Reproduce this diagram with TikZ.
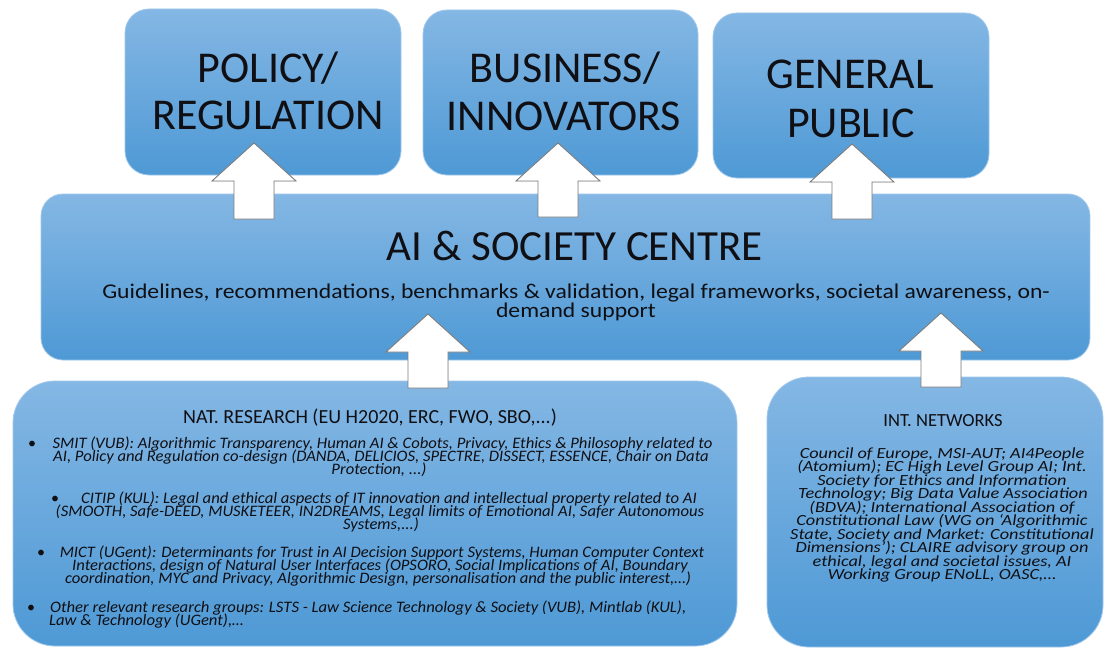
\documentclass[tikz,border=0pt]{standalone}
\usepackage{fontspec}
\setmainfont{Carlito}
\newfontfamily\stretchleft[FakeStretch=1.04]{Carlito}
\newfontfamily\stretchright[FakeStretch=1.18]{Carlito}
\newfontfamily\stretchsub[FakeStretch=1.127]{Carlito}
\usetikzlibrary{calc}
\definecolor{boxtop}{RGB}{132,183,228}
\definecolor{boxbot}{RGB}{78,153,213}
\definecolor{boxedge}{RGB}{160,200,236}
\definecolor{arrowedge}{RGB}{125,125,125}
\definecolor{inkblack}{RGB}{15,15,20}
\tikzset{
  bluebox/.style={draw=boxedge, line width=0.8pt, top color=boxtop, bottom color=boxbot,
    rounded corners=#1, inner sep=0pt},
  bluebox/.default=24pt,
  titletext/.style={anchor=base, inner sep=0pt, text=inkblack, font=\fontsize{44}{47}\selectfont},
  ctitletext/.style={anchor=base, inner sep=0pt, text=inkblack, font=\fontsize{43}{47}\selectfont},
  subtext/.style={anchor=base, inner sep=0pt, text=inkblack, font=\stretchsub\fontsize{21}{21}\selectfont},
  headtext/.style={anchor=base, inner sep=0pt, text=inkblack, font=\fontsize{20}{20}\selectfont},
  intheadtext/.style={anchor=base, inner sep=0pt, text=inkblack, font=\fontsize{18.5}{20}\selectfont},
  itext/.style={anchor=base, inner sep=0pt, text=inkblack, font=\stretchleft\fontsize{16}{13}\selectfont\itshape},
  ltext/.style={itext, anchor=base west},
  rtext/.style={anchor=base, inner sep=0pt, text=inkblack, font=\stretchright\fontsize{15.5}{13}\selectfont\itshape},
  bulletmark/.style={anchor=base, inner sep=0pt, text=inkblack, font=\fontsize{16}{13}\selectfont},
  arrowbody/.style={fill=white, draw=arrowedge, line width=0.9pt, line join=miter},
  arrowshade/.style={fill=black!45}
}
\newcommand\myblockarrow[2]{%
  \foreach \sty/\dx/\dy in {arrowshade/1.6/1.6, arrowbody/0/0}{
  \path[\sty, shift={(\dx,\dy)}] (#1) -- ($(#1)+(42,38)$) -- ($(#1)+(20,38)$) -- ($(#2)+(20,0)$)
     -- ($(#2)+(-20,0)$) -- ($(#1)+(-20,38)$) -- ($(#1)+(-42,38)$) -- cycle;}
}
\begin{document}
\begin{tikzpicture}[x=1pt,y=-1pt]
\useasboundingbox (0,0) rectangle (1105,650);
\fill[white] (0,0) rectangle (1105,650);

% boxes
\node[bluebox, minimum width=276pt, minimum height=166pt] (policy) at (263,92) {};
\node[bluebox, minimum width=275pt, minimum height=165pt] (business) at (560.5,92.5) {};
\node[bluebox, minimum width=276pt, minimum height=165pt] (general) at (851,95.5) {};
\node[bluebox=22pt, minimum width=1049pt, minimum height=166pt] (centre) at (565.5,277) {};
\node[bluebox=42pt, minimum width=724pt, minimum height=265pt] (nat) at (375,513.5) {};
\node[bluebox=42pt, minimum width=336pt, minimum height=270pt] (int) at (935,512) {};

% titles
\node[titletext] (pol1) at (268,83) {POLICY/};
\node[titletext] (pol2) at (268,130) {REGULATION};
\node[titletext] (bus1) at (565,83) {BUSINESS/};
\node[titletext] (bus2) at (564,131) {INNOVATORS};
\node[titletext] (gen1) at (850,89) {GENERAL};
\node[titletext] (gen2) at (851,137) {PUBLIC};
\node[ctitletext] (ctitle) at (575,260) {AI \& SOCIETY CENTRE};
\node[subtext] (csub1) at (576,298) {Guidelines, recommendations, benchmarks \& validation, legal frameworks, societal awareness, on-};
\node[subtext] (csub2) at (576,317) {demand support};

% arrows
\coordinate (t1) at (254,143); \coordinate (b1) at (254,219);
\coordinate (t2) at (558,143); \coordinate (b2) at (558,217);
\coordinate (t3) at (852,144); \coordinate (b3) at (852,219);
\coordinate (t4) at (428,314); \coordinate (b4) at (428,388);
\coordinate (t5) at (941,313); \coordinate (b5) at (941,387);
\myblockarrow{t1}{b1}
\myblockarrow{t2}{b2}
\myblockarrow{t3}{b3}
\myblockarrow{t4}{b4}
\myblockarrow{t5}{b5}

% national research
\node[headtext] (nathead) at (370,423.5) {NAT. RESEARCH (EU H2020, ERC, FWO, SBO,...)};
\node[bulletmark] (bu1) at (32,448) {•};
\node[itext] (s1) at (382.5,448) {SMIT (VUB): Algorithmic Transparency, Human AI \& Cobots, Privacy, Ethics \& Philosophy related to};
\node[itext] (s2) at (381,461) {AI, Policy and Regulation co-design (DANDA, DELICIOS, SPECTRE, DISSECT, ESSENCE, Chair on Data};
\node[itext] (s3) at (379,474) {Protection, ...)};
\node[bulletmark] (bu2) at (55,503) {•};
\node[itext] (c1) at (389,503) {CITIP (KUL): Legal and ethical aspects of IT innovation and intellectual property related to AI};
\node[itext] (c2) at (380,516) {(SMOOTH, Safe-DEED, MUSKETEER, IN2DREAMS, Legal limits of Emotional AI, Safer Autonomous};
\node[itext] (c3) at (381,529) {Systems,...)};
\node[bulletmark] (bu3) at (41,557) {•};
\node[itext] (m1) at (382,557) {MICT (UGent): Determinants for Trust in AI Decision Support Systems, Human Computer Context};
\node[itext] (m2) at (380,570) {Interactions, design of Natural User Interfaces (OPSORO, Social Implications of AI, Boundary};
\node[itext] (m3) at (378,583) {coordination, MYC and Privacy, Algorithmic Design, personalisation and the public interest,…)};
\node[bulletmark] (bu4) at (31,612) {•};
\node[ltext] (o1) at (50,612) {Other relevant research groups: LSTS - Law Science Technology \& Society (VUB), Mintlab (KUL),};
\node[ltext] (o2) at (49,625) {Law \& Technology (UGent),…};

% international networks
\node[intheadtext] (inthead) at (943,426.5) {INT. NETWORKS};
\node[rtext] (n1) at (942,458) {Council of Europe, MSI-AUT; AI4People};
\node[rtext] (n2) at (942,471.5) {(Atomium); EC High Level Group AI; Int.};
\node[rtext] (n3) at (942,485) {Society for Ethics and Information};
\node[rtext] (n4) at (943,498.5) {Technology; Big Data Value Association};
\node[rtext] (n5) at (942,512) {(BDVA); International Association of};
\node[rtext] (n6) at (942,525.5) {Constitutional Law (WG on ‘Algorithmic};
\node[rtext] (n7) at (942,539) {State, Society and Market: Constitutional};
\node[rtext] (n8) at (942,552.5) {Dimensions’); CLAIRE advisory group on};
\node[rtext] (n9) at (942,566) {ethical, legal and societal issues, AI};
\node[rtext] (n10) at (942,579.5) {Working Group ENoLL, OASC,…};
\end{tikzpicture}
\end{document}
